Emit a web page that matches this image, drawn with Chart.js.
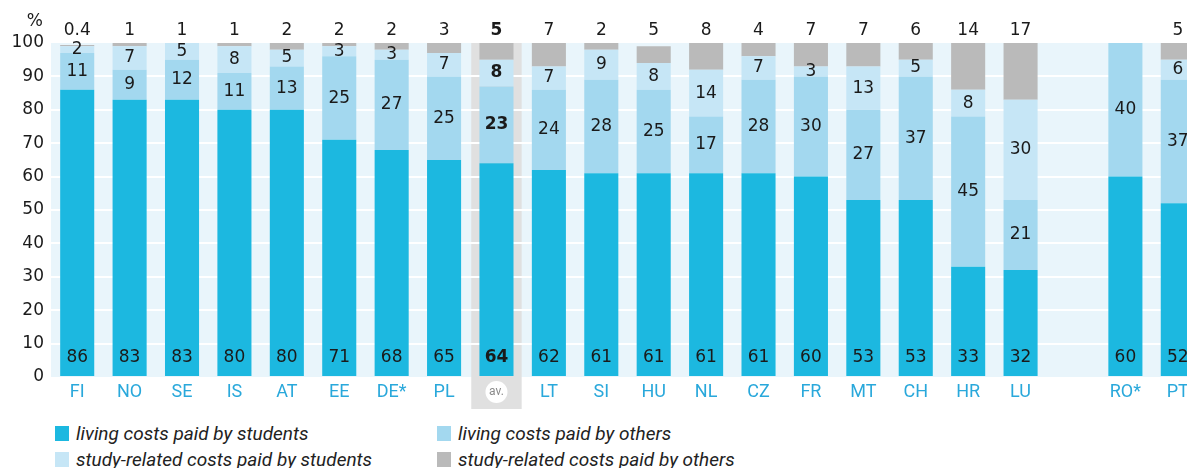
<!DOCTYPE html>
<html>
<head>
<meta charset="utf-8">
<script src="https://cdn.jsdelivr.net/npm/chart.js@4"></script>
<style>
  html, body { margin: 0; padding: 0; background: #fff; overflow: hidden; }
  #wrap { position: relative; width: 1187px; height: 468px; overflow: hidden; }
  #costChart { position: absolute; left: 0; top: 0; }
  #legend {
    position: absolute; left: 55px; top: 423px;
    display: grid; grid-template-columns: 382px auto; row-gap: 6px;
    font: italic 19px Roboto, sans-serif; color: #222;
  }
  .item { display: flex; align-items: center; height: 20px; }
  .swatch { width: 14px; height: 15px; margin-right: 7px; flex: none; }
</style>
</head>
<body>
<div id="wrap">
  <canvas id="costChart" width="1204" height="415"></canvas>
  <div id="legend"></div>
</div>
<script>
const categories = ['FI', 'NO', 'SE', 'IS', 'AT', 'EE', 'DE*', 'PL', 'av.', 'LT', 'SI', 'HU', 'NL', 'CZ', 'FR', 'MT', 'CH', 'HR', 'LU', '', 'RO*', 'PT'];
const livingByStudents = [86, 83, 83, 80, 80, 71, 68, 65, 64, 62, 61, 61, 61, 61, 60, 53, 53, 33, 32, null, 60, 52];
const livingByOthers   = [11, 9, 12, 11, 13, 25, 27, 25, 23, 24, 28, 25, 17, 28, 30, 27, 37, 45, 21, null, 40, 37];
const studyByStudents  = [2, 7, 5, 8, 5, 3, 3, 7, 8, 7, 9, 8, 14, 7, 3, 13, 5, 8, 30, null, null, 6];
const studyByOthers    = [0.4, 1, 1, 1, 2, 2, 2, 3, 5, 7, 2, 5, 8, 4, 7, 7, 6, 14, 17, null, null, 5];
const yTicks = [0, 10, 20, 30, 40, 50, 60, 70, 80, 90, 100];

const seriesNames = ['living costs paid by students', 'living costs paid by others',
                     'study-related costs paid by students', 'study-related costs paid by others'];
const seriesColors = ['#1cb8e0', '#a3d8ef', '#c6e6f6', '#bababa'];
const avIndex = categories.indexOf('av.');
const numFont = '"DejaVu Sans", sans-serif';

// pale plot background, grey column behind the average, white disc with its label
const backdrop = {
    id: 'backdrop',
    beforeDraw(chart) {
        const ctx = chart.ctx, a = chart.chartArea, x = chart.scales.x;
        ctx.save();
        ctx.fillStyle = '#e9f5fb';
        ctx.fillRect(a.left, a.top, chart.width - a.left, a.bottom - a.top);
        const cx = x.getPixelForValue(avIndex);
        const half = x.width / categories.length / 2 - 1;
        ctx.fillStyle = '#e0e0e0';
        ctx.fillRect(cx - half, a.top, half * 2, 409 - a.top);
        ctx.fillStyle = '#fff';
        ctx.beginPath();
        ctx.arc(cx, 392, 11, 0, Math.PI * 2);
        ctx.fill();
        ctx.fillStyle = '#8a8a8a';
        ctx.font = '12px Roboto, sans-serif';
        ctx.textAlign = 'center';
        ctx.textBaseline = 'middle';
        ctx.fillText(categories[avIndex], cx, 392);
        ctx.fillStyle = '#1a1a1a';
        ctx.font = '17px ' + numFont;
        ctx.textAlign = 'right';
        ctx.fillText('%', 43, 22);
        ctx.restore();
    }
};

// numbers inside the segments, the last series is written above the bar
const valueLabels = {
    id: 'valueLabels',
    afterDatasetsDraw(chart) {
        const ctx = chart.ctx;
        ctx.save();
        ctx.textAlign = 'center';
        ctx.textBaseline = 'middle';
        ctx.fillStyle = '#1a1a1a';
        chart.data.datasets.forEach((ds, di) => {
            chart.getDatasetMeta(di).data.forEach((bar, i) => {
                const v = ds.data[i];
                if (v == null) return;
                ctx.font = (i === avIndex ? 'bold ' : '') + '17px ' + numFont;
                let y;
                if (di === 0) y = bar.base - 18;
                else if (di === 3) y = chart.chartArea.top - 12;
                else y = (bar.y + bar.base) / 2;
                ctx.fillText(String(v), bar.x, y);
            });
        });
        ctx.restore();
    }
};

const values = [livingByStudents, livingByOthers, studyByStudents, studyByOthers];

new Chart(document.getElementById('costChart').getContext('2d'), {
    type: 'bar',
    data: {
        labels: categories,
        datasets: values.map((d, k) => ({
            label: seriesNames[k],
            data: d,
            backgroundColor: seriesColors[k],
            borderWidth: 0,
            barPercentage: 0.65,
            categoryPercentage: 1
        }))
    },
    options: {
        responsive: false,
        animation: false,
        layout: { padding: { top: 43, left: 0, right: 0, bottom: 0 } },
        plugins: { legend: { display: false }, tooltip: { enabled: false } },
        scales: {
            x: {
                stacked: true,
                grid: { display: false, drawTicks: false },
                border: { display: false },
                afterFit: s => { s.height = 38; },
                ticks: {
                    padding: 5,
                    autoSkip: false,
                    maxRotation: 0,
                    // the average label is drawn on its disc by the backdrop plugin
                    color: c => c.index === avIndex ? 'rgba(0,0,0,0)' : '#29a8db',
                    font: { family: 'Roboto, sans-serif', size: 18 }
                }
            },
            y: {
                stacked: true,
                min: 0,
                max: 100,
                afterFit: s => { s.width = 51; },
                afterBuildTicks: s => { s.ticks = yTicks.map(v => ({ value: v })); },
                grid: {
                    drawTicks: false,
                    lineWidth: 2,
                    color: c => c.tick && c.tick.value > 0 && c.tick.value < 100 ? '#ffffff' : 'rgba(0,0,0,0)'
                },
                border: { display: false },
                ticks: {
                    padding: 7,
                    color: '#1a1a1a',
                    font: { family: numFont, size: 17 }
                }
            }
        }
    },
    plugins: [backdrop, valueLabels]
});

// legend: two columns, filled row by row
const legend = document.getElementById('legend');
seriesNames.forEach((name, k) => {
    const item = document.createElement('div');
    item.className = 'item';
    const sw = document.createElement('span');
    sw.className = 'swatch';
    sw.style.background = seriesColors[k];
    item.appendChild(sw);
    item.appendChild(document.createTextNode(name));
    legend.appendChild(item);
});
</script>
</body>
</html>
